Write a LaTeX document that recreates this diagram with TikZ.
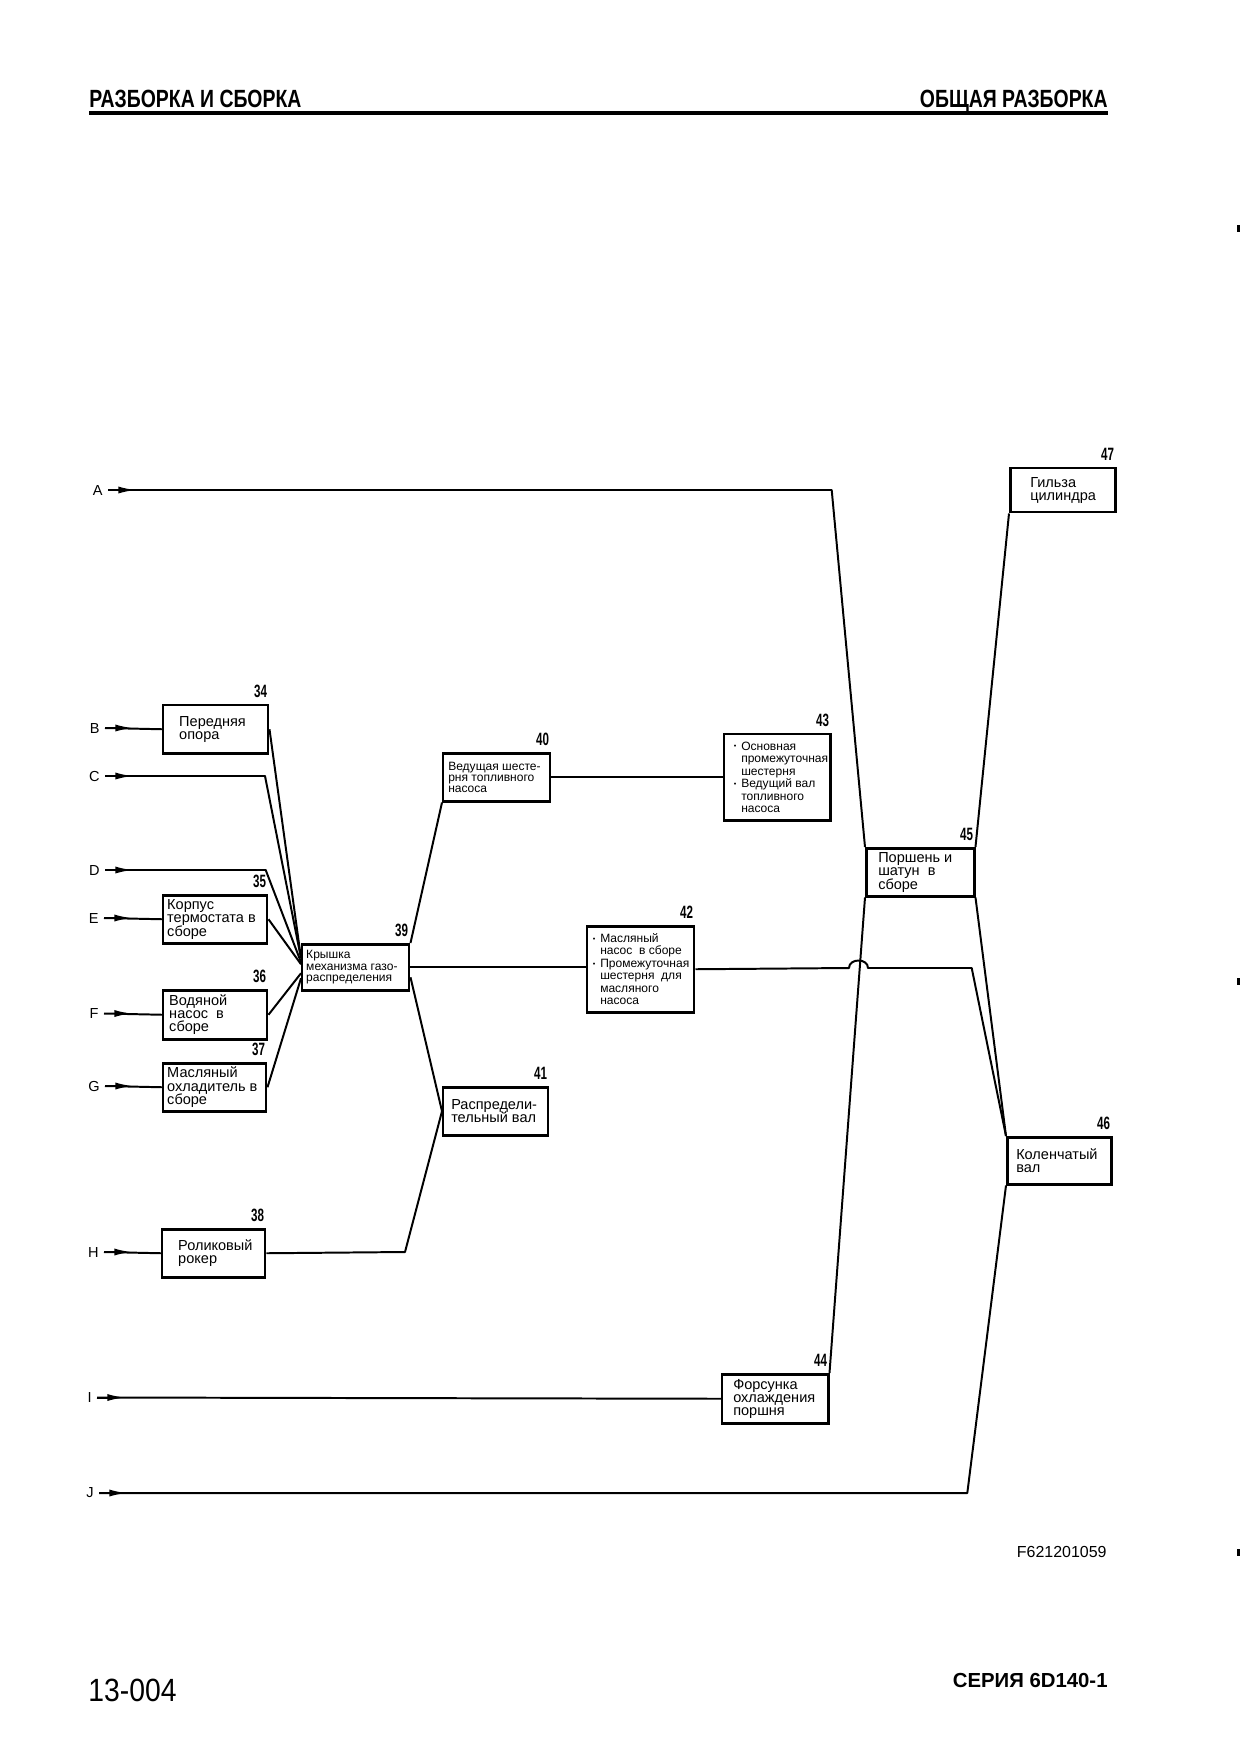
\documentclass[tikz,border=0pt]{standalone}
\usepackage{fontspec}
\setmainfont{Liberation Sans}
\newfontfamily\hdrfont[FakeStretch=0.78]{Liberation Sans}
\newfontfamily\numfont[FakeStretch=0.65]{Liberation Sans}
\newfontfamily\pgfont[FakeStretch=0.88]{Liberation Sans}
\usetikzlibrary{arrows.meta,calc}
\newlength{\pxl}\setlength{\pxl}{0.16935mm}
\newcommand{\btext}[3]{\makebox[#1\pxl][l]{\hspace*{#2\pxl}\parbox{80mm}{\lineskiplimit=-20pt\raggedright #3}}}
\newcommand{\bul}{\leavevmode\llap{\raisebox{0.2ex}{\scalebox{0.6}{•}}\hspace{2.3pt}}}
\begin{document}
\begin{tikzpicture}[x=0.16935mm, y=-0.16935mm,
  conn/.style={line width=0.95pt, line join=round},
  arr/.style={line width=0.95pt, -{Latex[length=3mm, width=1.2mm]}},
  box/.style={draw, line width=1.2pt, inner sep=0pt, anchor=north west, font=\fontsize{7}{6.4}\selectfont},
  sbox/.style={box, font=\fontsize{5.8}{5.4}\selectfont},
  bbox/.style={box, font=\fontsize{5.8}{6}\selectfont},
  num/.style={font=\numfont\bfseries\fontsize{8.6}{8.6}\selectfont, inner sep=0pt, anchor=south east},
  lbl/.style={font=\fontsize{7}{7}\selectfont, inner sep=0pt, anchor=east}]
\useasboundingbox[fill=white] (0,0) rectangle (1240,1754);

% header
\node[anchor=base west, inner sep=0pt, font=\hdrfont\bfseries\fontsize{12}{12}\selectfont] (h1) at (89,107) {РАЗБОРКА И СБОРКА};
\node[anchor=base east, inner sep=0pt, font=\hdrfont\bfseries\fontsize{12}{12}\selectfont] (h2) at (1108,107) {ОБЩАЯ РАЗБОРКА};
\draw[line width=1.5pt] (89,113) -- (1108,113);

% boxes
\node[box, minimum height=48*\pxl] (b34) at (162,704) {\btext{105}{16}{Передняя\\опора}};
\node[box, minimum height=48*\pxl] (b35) at (162,894) {\btext{104}{4}{Корпус\\термостата в\\сборе}};
\node[box, minimum height=49*\pxl] (b36) at (162,989) {\btext{104}{6}{Водяной\\насос\ \ в\\сборе}};
\node[box, minimum height=48*\pxl] (b37) at (162,1062) {\btext{103}{4}{Масляный\\охладитель в\\сборе}};
\node[box, minimum height=48*\pxl] (b38) at (161,1228) {\btext{103}{16}{Роликовый\\рокер}};
\node[sbox, minimum height=46*\pxl] (b39) at (301,943) {\btext{107}{4}{Крышка\\механизма газо-\\распределения}};
\node[sbox, minimum height=48*\pxl] (b40) at (442,752) {\btext{107}{5}{Ведущая шесте-\\рня топливного\\насоса}};
\node[box, minimum height=48*\pxl] (b41) at (442,1086) {\btext{105}{8}{Распредели-\\тельный вал}};
\node[bbox, minimum height=86*\pxl] (b42) at (586,925) {\btext{107}{13}{\bul Масляный\\насос\ \ в сборе\\\bul Промежуточная\\шестерня\ \ для\\масляного\\насоса}};
\node[bbox, minimum height=86*\pxl] (b43) at (723,733) {\btext{106}{17}{\bul Основная\\промежуточная\\шестерня\\\bul Ведущий вал\\топливного\\насоса}};
\node[box, minimum height=49*\pxl] (b44) at (721,1373) {\btext{106}{11}{Форсунка\\охлаждения\\поршня}};
\node[box, minimum height=48*\pxl] (b45) at (865,847) {\btext{108}{12}{Поршень и\\шатун\ \ в\\сборе}};
\node[box, minimum height=47*\pxl] (b46) at (1006,1136) {\btext{104}{9}{Коленчатый\\вал}};
\node[box, minimum height=44*\pxl] (b47) at (1009,467) {\btext{105}{20}{Гильза\\цилиндра}};

% numbers
\foreach \b in {34,35,36,37,38,39,40,41,42,43,44,45,46,47}
  \node[num] (n\b) at ($(b\b.north east)+(-2,-6)$) {\b};

% letters
\node[lbl] (lA) at (103,490) {A};
\node[lbl] (lB) at (100,728) {B};
\node[lbl] (lC) at (100,776) {C};
\node[lbl] (lD) at (100,870) {D};
\node[lbl] (lE) at (99,918) {E};
\node[lbl] (lF) at (99,1013.5) {F};
\node[lbl] (lG) at (100,1086) {G};
\node[lbl] (lH) at (99,1252) {H};
\node[lbl] (lI) at (92,1397.5) {I};
\node[lbl] (lJ) at (94,1493) {J};

% arrows at the letters
\foreach \l in {A,B,C,D,E,F,G,H,I,J}
  \draw[arr] ($(l\l.east)+(5,0)$) -- ($(l\l.east)+(33,0)$);

% connectors
\draw[conn] ($(lA.east)+(5,0)$) -- (831.7,490) -- (b45.north west);
\draw[conn] ($(lB.east)+(5,0)$) -- (b34.west);
\draw[conn] ($(lC.east)+(5,0)$) -- (265,776) -- ($(b39.west)+(0,-9)$);
\draw[conn] (b34.east) -- ($(b39.west)+(0,-9)$);
\draw[conn] ($(lD.east)+(5,0)$) -- (265.7,870) -- ($(b39.west)+(0,-5)$);
\draw[conn] ($(lE.east)+(5,0)$) -- (b35.west);
\draw[conn] (b35.east) -- ($(b39.west)+(0,-3)$);
\draw[conn] ($(lF.east)+(5,0)$) -- (b36.west);
\draw[conn] (b36.east) -- ($(b39.west)+(0,6)$);
\draw[conn] ($(lG.east)+(5,0)$) -- (b37.west);
\draw[conn] (b37.east) -- ($(b39.west)+(0,11)$);
\draw[conn] ($(lH.east)+(5,0)$) -- (b38.west);
\draw[conn] (b38.east) -- (405,1252) -- (b41.west);
\draw[conn] (b39.north east) -- (b40.south west);
\draw[conn] (b39.east) -- (b39.east -| b42.west);
\draw[conn] ($(b39.east)+(0,10)$) -- (b41.west);
\draw[conn] (b40.east) -- (b40.east -| b43.west);
\draw[conn] (b42.east) -- (849,968) .. controls (849,958) and (868,958) .. (868,968) -- (971.7,968) -- (b46.north west);
\draw[conn] (b45.south east) -- (b46.north west);
\draw[conn] (b47.south west) -- (b45.north east);
\draw[conn] (b44.north east) -- (b45.south west);
\draw[conn] ($(lI.east)+(5,0)$) -- (b44.west);
\draw[conn] ($(lJ.east)+(5,0)$) -- (967.3,1493) -- (b46.south west);

% figure number and footer
\node[anchor=base east, inner sep=0pt, font=\fontsize{7.7}{8}\selectfont] (fig) at (1107,1557) {F621201059};
\node[anchor=base west, inner sep=0pt, font=\pgfont\fontsize{15.5}{16}\selectfont] (pg) at (88,1701) {13-004};
\node[anchor=base east, inner sep=0pt, font=\bfseries\fontsize{9.8}{10}\selectfont] (ser) at (1108,1687) {СЕРИЯ 6D140-1};

% edge marks
\fill (1237,225) rectangle (1240,232);
\fill (1237,978) rectangle (1240,985);
\fill (1237,1549) rectangle (1240,1556);
\end{tikzpicture}
\end{document}
